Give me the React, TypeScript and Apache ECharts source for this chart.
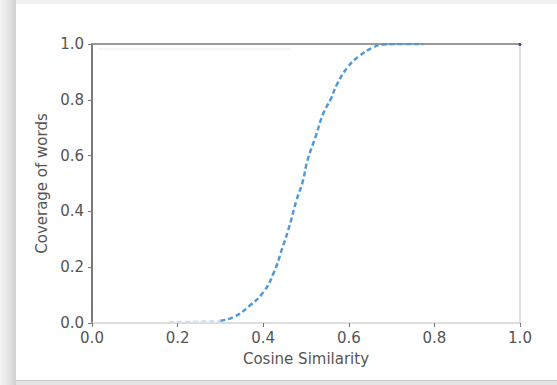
import React, { useEffect, useRef } from "react";
import * as echarts from "echarts";

const xTicks = [0, 0.2, 0.4, 0.6, 0.8, 1.0];
const yTicks = [0, 0.2, 0.4, 0.6, 0.8, 1.0];
const tailSim = [0.18, 0.22, 0.26, 0.3];
const tailCov = [0.003, 0.004, 0.005, 0.008];
const cosineSim = [0.3, 0.333, 0.366, 0.4, 0.424, 0.445, 0.461, 0.478, 0.492, 0.503, 0.524, 0.54, 0.557, 0.573, 0.598, 0.623, 0.656, 0.681, 0.72, 0.775];
const coverage = [0.008, 0.023, 0.059, 0.11, 0.178, 0.27, 0.346, 0.441, 0.505, 0.58, 0.675, 0.75, 0.8, 0.857, 0.918, 0.955, 0.987, 0.998, 1.0, 1.0];

export default function App() {
  const ref = useRef<HTMLDivElement>(null);
  useEffect(() => {
    document.body.style.margin = "0";
    const chart = echarts.init(ref.current!, undefined, { renderer: "svg" });
    const font = "DejaVu Sans";
    const txt = "#555555";
    chart.setOption({
      animation: false,
      backgroundColor: "#ffffff",
      graphic: [
        { type: "rect", shape: { x: 0, y: 0, width: 557, height: 4 }, style: { fill: "#f1f1f1" }, silent: true },
        {
          type: "rect",
          shape: { x: 0, y: 0, width: 16, height: 385 },
          style: {
            fill: {
              type: "linear", x: 0, y: 0, x2: 1, y2: 0,
              colorStops: [
                { offset: 0, color: "#f4f4f4" },
                { offset: 0.7, color: "#dedede" },
                { offset: 1, color: "#cfcfcf" },
              ],
            },
          },
          silent: true,
        },
        { type: "rect", shape: { x: 16, y: 380, width: 541, height: 5 }, style: { fill: "#e4e4e4" }, silent: true },
        { type: "rect", shape: { x: 16, y: 380, width: 541, height: 1 }, style: { fill: "#cccccc" }, silent: true },
        { type: "line", shape: { x1: 98, y1: 49, x2: 290, y2: 49 }, style: { stroke: "#ececec", lineWidth: 1 }, silent: true },
        { type: "circle", shape: { cx: 520, cy: 44.5, r: 1.5 }, style: { fill: "#3a3a9a" }, silent: true, z: 100 },
      ],
      grid: { left: 92, right: 37, top: 44, bottom: 62 },
      xAxis: [
        {
          type: "value", min: 0, max: 1, interval: 0.2,
          name: "Cosine Similarity", nameLocation: "middle", nameGap: 28,
          nameTextStyle: { fontFamily: font, fontSize: 15, color: txt },
          axisLine: { show: true, onZero: false, lineStyle: { color: "#d4d4d4", width: 1.5 } },
          axisTick: { show: true, length: 4, lineStyle: { color: "#777" } },
          axisLabel: { fontFamily: font, fontSize: 15, color: txt, margin: 7, formatter: (v: number) => v.toFixed(1), customValues: xTicks },
          splitLine: { show: false },
        },
        {
          type: "value", min: 0, max: 1, position: "top",
          axisLine: { show: true, onZero: false, lineStyle: { color: "#999999", width: 2 } },
          axisTick: { show: false }, axisLabel: { show: false }, splitLine: { show: false },
        },
      ],
      yAxis: [
        {
          type: "value", min: 0, max: 1, interval: 0.2,
          name: "Coverage of words", nameLocation: "middle", nameGap: 38,
          nameTextStyle: { fontFamily: font, fontSize: 15, color: txt },
          axisLine: { show: true, onZero: false, lineStyle: { color: "#7a7a7a", width: 2 } },
          axisTick: { show: true, length: 4, lineStyle: { color: "#777" } },
          axisLabel: { fontFamily: font, fontSize: 15, color: txt, margin: 8, formatter: (v: number) => v.toFixed(1), customValues: yTicks },
          splitLine: { show: false },
        },
        {
          type: "value", min: 0, max: 1, position: "right",
          axisLine: { show: true, onZero: false, lineStyle: { color: "#d6d6ee", width: 1.5 } },
          axisTick: { show: false }, axisLabel: { show: false }, splitLine: { show: false },
        },
      ],
      series: [
        {
          type: "line", smooth: true, showSymbol: false, symbol: "none",
          data: tailSim.map((x, i) => [x, tailCov[i]]),
          lineStyle: { color: "#cfe0f2", width: 2.5, type: [5, 3] },
        },
        {
          type: "line", smooth: true, showSymbol: false, symbol: "none",
          data: cosineSim.map((x, i) => [x, coverage[i]]),
          lineStyle: { color: "#5299d5", width: 2.5, type: [5, 3] },
        },
      ],
    });
    return () => chart.dispose();
  }, []);
  return <div ref={ref} style={{ position: "fixed", left: 0, top: 0, width: 557, height: 385 }} />;
}
